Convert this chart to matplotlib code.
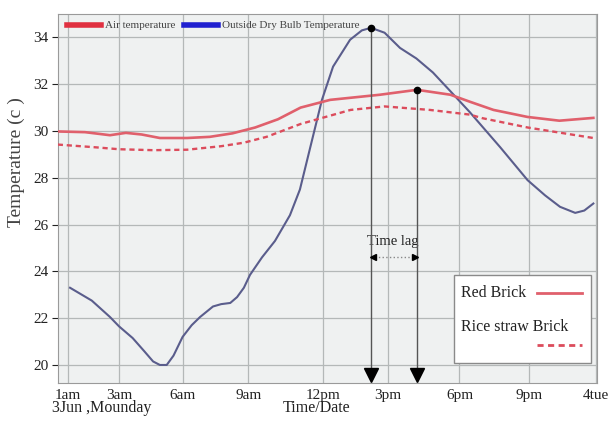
import matplotlib
matplotlib.use('Agg')
import matplotlib.pyplot as plt
from matplotlib.patches import Rectangle
from matplotlib.lines import Line2D

plt.rcParams['font.family'] = ['Liberation Serif', 'DejaVu Serif']

# hours since 0:00 on 3 Jun
outHours = [0.84, 1.8, 2.6, 3.0, 3.6, 4.1, 4.5, 4.8, 5.1, 5.4, 5.8, 6.2, 6.57, 7.14,
            7.5, 7.9, 8.2, 8.5, 8.77, 9.3, 9.87, 10.53, 10.97, 11.4, 11.94, 12.43,
            13.18, 13.7, 14.1, 14.7, 15.38, 16.1, 16.83, 17.6, 18.46, 19.8, 21.0,
            21.77, 22.43, 23.1, 23.5, 23.9]
outTemp = [23.3, 22.75, 22.05, 21.65, 21.15, 20.6, 20.15, 20.0, 20.0, 20.4, 21.2, 21.7,
           22.05, 22.5, 22.6, 22.65, 22.9, 23.3, 23.85, 24.6, 25.3, 26.4, 27.5, 29.2,
           31.33, 32.75, 33.9, 34.3, 34.41, 34.2, 33.55, 33.1, 32.5, 31.7, 30.8, 29.3,
           27.9, 27.25, 26.76, 26.5, 26.6, 26.9]

redHours = [0.3, 1.5, 2.6, 3.3, 4.0, 4.8, 6.0, 7.0, 8.0, 9.0, 10.0, 11.0, 12.3, 13.0,
            14.5, 16.13, 17.6, 18.46, 19.5, 21.0, 22.4, 23.9]
redTemp = [29.98, 29.95, 29.82, 29.92, 29.85, 29.7, 29.7, 29.75, 29.9, 30.15, 30.5, 31.0,
           31.33, 31.4, 31.55, 31.76, 31.55, 31.25, 30.9, 30.6, 30.44, 30.56]

strawHours = [0.3, 2.0, 3.0, 4.5, 6.0, 7.5, 8.5, 9.5, 11.0, 13.2, 14.7, 16.7, 18.46,
              19.0, 21.0, 23.9]
strawTemp = [29.42, 29.3, 29.22, 29.18, 29.2, 29.35, 29.5, 29.75, 30.3, 30.9, 31.05,
             30.9, 30.7, 30.55, 30.15, 29.7]

tickPos = [0.75, 3, 5.8, 8.7, 12, 14.85, 18, 21.05, 24]
tickLab = ['1am', '3am', '6am', '9am', '12pm', '3pm', '6pm', '9pm', '4tue']
yTicks = [20, 22, 24, 26, 28, 30, 32, 34]

peakOut = (14.1, 34.41)
peakRed = (16.13, 31.76)

fig = plt.figure(figsize=(6.08, 4.23), dpi=100)
ax = fig.add_axes([0.0954, 0.0946, 0.8865, 0.8723])
ax.set_facecolor('#eff1f1')

ax.plot(outHours, outTemp, color='#5a5d8c', lw=1.5, zorder=3)
ax.plot(redHours, redTemp, color='#e0606c', lw=1.9, zorder=3)
ax.plot(strawHours, strawTemp, color='#dc4c5c', lw=1.7, dashes=(2.2, 1.6), zorder=3)

# time lag markers
for px, py in [peakOut, peakRed]:
    ax.plot([px, px], [py, 19.6], color='#555555', lw=1.0, zorder=4)
    ax.plot(px, py, 'o', color='black', ms=4.5, zorder=5)
    ax.plot(px, 19.55, 'v', color='black', ms=10, zorder=5, clip_on=False)
ax.plot([peakOut[0], peakRed[0]], [24.62, 24.62], color='#888888', lw=1, ls=':', zorder=4)
ax.plot(peakOut[0] + 0.08, 24.62, '<', color='black', ms=4, zorder=5)
ax.plot(peakRed[0] - 0.08, 24.62, '>', color='black', ms=4, zorder=5)
ax.text(15.07, 25.26, 'Time lag', ha='center', va='center', fontsize=10.5, color='#222222')

ax.set_xlim(0.31, 24.06)
ax.set_ylim(19.23, 35.0)
ax.set_xticks(tickPos)
ax.set_xticklabels(tickLab)
ax.set_yticks(yTicks)
ax.tick_params(axis='x', length=0, labelsize=11, pad=4, colors='#222222')
ax.tick_params(axis='y', length=4, labelsize=11, colors='#222222', pad=3)
ax.grid(True, color='#b4b8b8', lw=0.9)
ax.set_axisbelow(True)
for s in ax.spines.values():
    s.set_color('#9a9a9a')

ax.set_ylabel('Temperature (c )', fontsize=14, color='#444444')
ax.yaxis.set_label_coords(-0.062, 0.6)
fig.text(0.521, 0.035, 'Time/Date', ha='center', va='center', fontsize=11.5, color='#222222')
fig.text(0.086, 0.035, '3Jun ,Mounday', ha='left', va='center', fontsize=11.5, color='#222222')

# top legend
hAir = Line2D([], [], color='#e03040', lw=4)
hOut = Line2D([], [], color='#2020d0', lw=4)
ax.legend([hAir, hOut], ['Air temperature', 'Outside Dry Bulb Temperature'],
          loc='upper left', ncol=2, frameon=False, fontsize=8, handlelength=3.0,
          handletextpad=0.4, columnspacing=0.8, borderaxespad=0.2,
          bbox_to_anchor=(0.005, 1.0), labelcolor='#444444')

# bottom right legend box
ax.add_patch(Rectangle((0.734, 0.055), 0.254, 0.238, transform=ax.transAxes,
                       facecolor='white', edgecolor='#8a8a8a', lw=1, zorder=6))
ax.text(0.748, 0.244, 'Red Brick', transform=ax.transAxes, fontsize=11.5,
        va='center', ha='left', color='#222222', zorder=7)
ax.add_line(Line2D([0.889, 0.972], [0.244, 0.244], transform=ax.transAxes,
                   color='#e0606c', lw=2, zorder=7))
ax.text(0.748, 0.152, 'Rice straw Brick', transform=ax.transAxes, fontsize=11.5,
        va='center', ha='left', color='#222222', zorder=7)
ax.add_line(Line2D([0.889, 0.972], [0.103, 0.103], transform=ax.transAxes,
                   color='#dc4c5c', lw=2, dashes=(2.2, 1.6), zorder=7))

fig.savefig('out.png', dpi=100)
